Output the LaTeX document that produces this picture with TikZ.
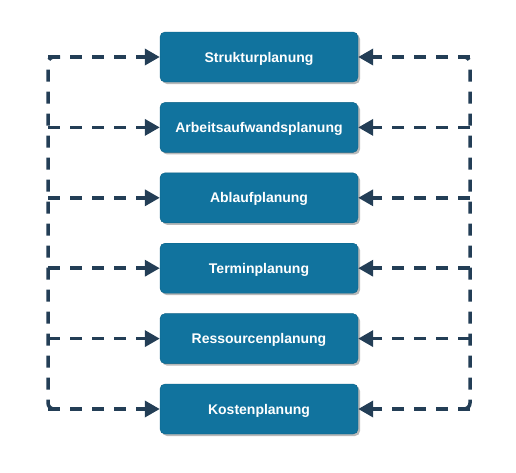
\documentclass[tikz,border=0pt]{standalone}
\usepackage{fontspec}
\setsansfont{Liberation Sans}
\usetikzlibrary{arrows.meta, positioning, shadows}
\definecolor{PlanFill}{RGB}{17,115,158}
\definecolor{LinkLine}{RGB}{35,62,86}
\tikzset{
  % Blue planning box with soft drop shadow
  plan/.style={
    rectangle, rounded corners=5pt,
    fill=PlanFill, draw=PlanFill!85!black, line width=0.4pt,
    text=white, font=\fontsize{14}{16}\selectfont\bfseries\sffamily,
    text depth=0pt,
    minimum width=198pt, minimum height=50pt, inner sep=2pt,
    drop shadow={fill=gray!55, shadow xshift=2pt, shadow yshift=-2pt, opacity=1}
  },
  % Dashed connector lines
  link/.style={draw=LinkLine, line width=3.5pt, dash pattern=on 12pt off 10pt},
  arr/.style={link, -{Triangle[length=15pt, width=16pt]}}
}
\begin{document}
\begin{tikzpicture}[x=1pt, y=-1pt, node distance=20pt]
  \useasboundingbox (0,0) rectangle (516,472);

  %% ── Planning boxes ─────────────────────────────────────────────────────────
  \node[plan] (strk) at (259,57) {Strukturplanung};
  \node[plan, below=of strk] (aufw) {Arbeitsaufwandsplanung};
  \node[plan, below=of aufw] (ablf) {Ablaufplanung};
  \node[plan, below=of ablf] (term) {Terminplanung};
  \node[plan, below=of term] (ress) {Ressourcenplanung};
  \node[plan, below=of ress] (kost) {Kostenplanung};

  %% ── Side buses ─────────────────────────────────────────────────────────────
  \coordinate (lbus) at (48,0);
  \coordinate (rbus) at (470,0);

  \draw[link, rounded corners=6pt]
    ([xshift=12pt]lbus |- strk.west) -- (lbus |- strk.west)
    -- (lbus |- kost.west) -- ([xshift=12pt]lbus |- kost.west);
  \draw[link, rounded corners=6pt]
    ([xshift=-12pt]rbus |- strk.east) -- (rbus |- strk.east)
    -- (rbus |- kost.east) -- ([xshift=-12pt]rbus |- kost.east);

  %% ── Arrows into each box ───────────────────────────────────────────────────
  \foreach \n in {strk, aufw, ablf, term, ress, kost} {
    \draw[arr] (lbus |- \n.west) -- (\n.west);
    \draw[arr] (rbus |- \n.east) -- (\n.east);
  }

\end{tikzpicture}
\end{document}
